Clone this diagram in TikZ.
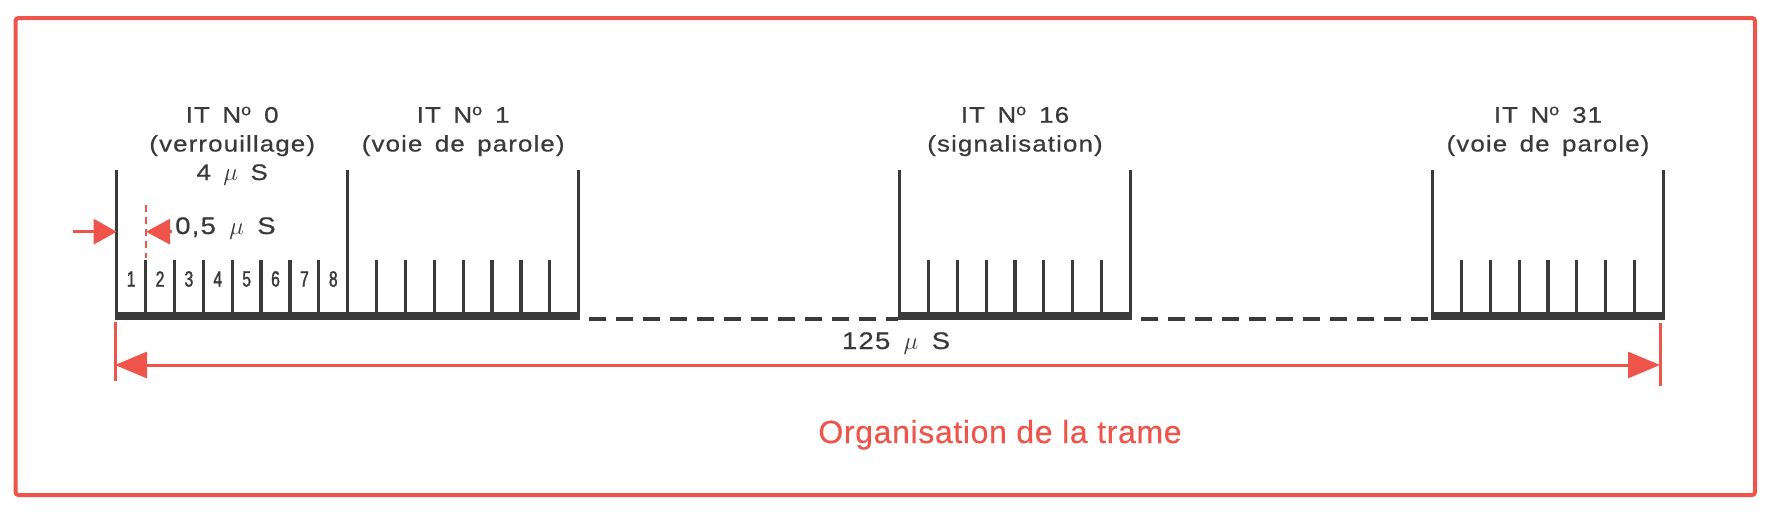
\documentclass[tikz,border=0pt]{standalone}
\usepackage{fontspec}
\usepackage{tikz}
\usetikzlibrary{arrows.meta}
\newfontfamily\labelfont{Liberation Sans}[FakeStretch = 1.15, LetterSpace = 5, WordSpace = 1.5, FakeBold = 0.6]
\newfontfamily\capfont{Liberation Sans}[LetterSpace = 2, FakeBold = 0.3]
\newfontfamily\slotfont{Liberation Sans}[FakeStretch = 0.72, FakeBold = 1.5]
\definecolor{trame}{RGB}{238,84,74}
\definecolor{ink}{RGB}{58,58,58}

\begin{document}
\begin{tikzpicture}[x = 1pt, y = -1pt]
\tikzstyle{mywall} = [ink, line width = 3.5pt]
\tikzstyle{mytick} = [ink, line width = 3.2pt]
\tikzstyle{mylabel} = [ink, inner sep = 0pt, anchor = base, font = \labelfont\fontsize{22.5}{26}\selectfont]
\tikzstyle{mymeasure} = [mylabel, font = \labelfont\fontsize{24}{28}\selectfont]
\tikzstyle{myslot} = [ink, inner sep = 0pt, font = \slotfont\fontsize{22}{24}\selectfont]
\tikzstyle{mydim} = [trame, line width = 3pt]
\tikzstyle{mydash} = [ink, line width = 4pt, dash pattern = on 17pt off 10pt, dash phase = 18pt]
\useasboundingbox (0,0) rectangle (1772,515);
\draw [trame, line width = 4pt, rounded corners = 3pt] (15.5,18) rectangle (1755,495);
% time slots 0, 1, 16, 31
\foreach \x/\n/\role in {116.7/0/verrouillage, 347.7/1/voie de parole, 899.5/16/signalisation, 1432.5/31/voie de parole} {
  \fill [ink] (\x - 1.75, 312) rectangle (\x + 232.75, 320);
  \draw [mywall] (\x, 170) -- (\x, 314);
  \draw [mywall] (\x + 231, 170) -- (\x + 231, 314);
  \foreach \k in {1,...,7} \draw [mytick] (\x + 28.875*\k, 260) -- (\x + 28.875*\k, 314);
  \coordinate (left\n) at (\x - 1.75, 319);
  \coordinate (right\n) at (\x + 232.75, 319);
  \node [mylabel] (it\n) at (\x + 115.5, 122.7) {IT N\textsuperscript{o} \n};
  \node [mylabel] (role\n) at (\x + 115.5, 151.5) {(\role)};
}
\foreach \k in {1,...,8} \node [myslot] (slot\k) at (116.7 + 28.875*\k - 14.4, 279) {\k};
\draw [mydash] (right1) -- (left16);
\draw [mydash] (right16) -- (left31);
% durations
\node [mylabel] (dur0) at (232.2, 180) {4 {\fontsize{27}{30}\selectfont$\mu$} S};
\node [mymeasure, anchor = base west] (dur1) at (175, 234) {0,5 {\fontsize{28}{30}\selectfont$\mu$} S};
\coordinate (a0) at (73, 231.7);
\coordinate (a1) at (116.7, 231.7);
\coordinate (a2) at (172, 231.7);
\coordinate (a3) at (146, 231.7);
\draw [mydim, -{Triangle[length = 23pt, width = 25pt]}] (a0) -- (a1);
\draw [mydim, -{Triangle[length = 24pt, width = 25pt]}] (a2) -- (a3);
\draw [trame, line width = 2.2pt, dash pattern = on 7pt off 5pt] (146, 205) -- (146, 258);
\coordinate (s0) at (115, 365);
\coordinate (s1) at (1660, 365);
\draw [mydim] (115, 322) -- (115, 381);
\draw [mydim] (1660, 323) -- (1660, 386);
\draw [mydim, {Triangle[length = 32pt, width = 26pt]}-{Triangle[length = 32pt, width = 26pt]}] (s0) -- (s1);
\node [mymeasure] (period) at (896, 349) {125 {\fontsize{28}{30}\selectfont$\mu$} S};
\node [trame, inner sep = 0pt, anchor = base, font = \capfont\fontsize{32}{38}\selectfont] (caption) at (1000, 443) {Organisation de la trame};
\end{tikzpicture}
\end{document}
